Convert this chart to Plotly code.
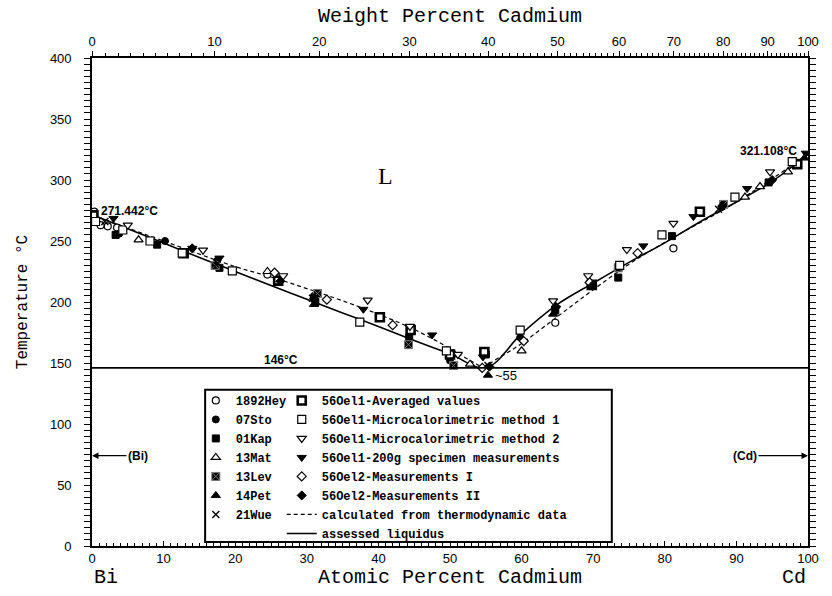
import plotly.graph_objects as go

# ---- Bi-Cd liquidus: experimental points (at.% Cd, temperature in °C) ----
hey_x = [0.3, 1.2, 2.2, 3.5, 24.5, 64.7, 81.2]
hey_t = [274, 263, 262, 261, 222.5, 183, 244]

sto_x = [3.8, 10.2, 17.5, 31.0, 50.0, 59.8, 88.0]
sto_t = [256, 250, 234, 205, 152, 171, 278]

kap_x = [3.3, 9.1, 17.8, 31.2, 44.3, 55.0, 64.7, 73.5, 81.0, 94.5]
kap_t = [255, 247, 228, 200, 171, 157, 193, 220, 254, 298]

mat_x = [6.5, 24.5, 52.8, 60.0, 91.2, 93.3, 97.2]
mat_t = [251, 225, 149, 160, 286, 294.6, 306.7]

lev_x = [0.0, 17.2, 31.5, 44.2, 50.5, 73.5, 88.2]
lev_t = [269, 230, 207, 165, 148, 228, 280]

pet_x = [31.0, 55.3, 64.4, 99.5]
pet_t = [198, 140, 190, 318]

wue_x = [1.8, 17.5, 30.8, 55.3, 87.5]
wue_t = [266, 232, 203, 148, 276]

avg_x = [0.2, 12.8, 26.0, 40.2, 44.5, 50.0, 54.8, 69.8, 84.9, 98.5]
avg_t = [271, 240, 217.5, 187.5, 177, 157, 159, 214, 274, 313]

mc1_x = [0.5, 4.3, 8.1, 12.6, 19.6, 37.4, 49.5, 59.8, 73.7, 79.6, 89.8, 97.8]
mc1_t = [266, 259, 250, 240, 225.5, 183.5, 160, 177, 230, 255, 286, 315]

mc2_x = [5.0, 15.5, 26.7, 38.5, 44.4, 51.1, 64.4, 69.3, 74.7, 81.2, 94.7]
mc2_t = [263, 242.5, 221.5, 201.5, 180, 157, 201, 221.5, 243, 264.5, 306.7]

spec_x = [3.0, 14.0, 17.8, 37.9, 47.5, 54.6, 64.8, 77.0, 84.0, 91.5, 99.7]
spec_t = [268.5, 244, 236, 194, 173, 155, 195, 246, 270, 293, 322]

m1_x = [25.5, 32.8, 42.0, 54.5, 60.3, 69.5, 76.2]
m1_t = [224, 202, 181, 146, 168, 216, 240]

m2_x = [14.0, 26.3, 31.0, 55.5, 64.8, 69.9, 88.0, 95.0]
m2_t = [244, 217, 203, 147, 196, 213.5, 278.5, 300]

# ---- curves ----
liq_x = [0, 5, 10, 15, 20, 25, 30, 35, 40, 45, 50, 55,
         60, 65, 70, 75, 80, 85, 90, 95, 100]
liq_t = [271.442, 260, 248.3, 236.5, 225, 213.5, 202.3, 191, 180, 168.5, 157.5, 146,
         174, 198, 215.5, 232.5, 248.5, 266, 282, 299, 321.108]

calc_x = [0, 10, 20, 25, 30, 35, 40, 45, 50, 53, 54.5, 57, 60, 65, 70, 75, 80, 90, 100]
calc_t = [271.442, 250, 229, 220.5, 211, 201, 190, 177.5, 162, 151.5, 147.5, 155, 166,
          188, 210, 231, 249, 282, 321.108]

eut_x = [0, 100]
eut_t = [146, 146]

# ---- top axis: weight percent Cd ----
wt_major = [0, 10, 20, 30, 40, 50, 60, 70, 80, 90, 100]
wt_minor = list(range(0, 101, 1))
M_BI, M_CD = 208.98, 112.41


def wt_to_at(w):
    n_cd = w / M_CD
    n_bi = (100 - w) / M_BI
    return 100 * n_cd / (n_cd + n_bi)


TICK_FONT = dict(family="Liberation Sans Narrow, Liberation Sans, Arial", size=13, color="black")
TITLE_FONT = dict(family="Liberation Mono, DejaVu Sans Mono, monospace", size=20, color="black")
LEG_FONT = dict(family="Liberation Mono, DejaVu Sans Mono, monospace", size=12, color="black",
                weight="bold")
ANN_FONT = dict(family="Liberation Sans, Arial", size=12, color="black", weight="bold")

fig = go.Figure()

# eutectic horizontal, drawn on the weight-percent axis so it is rendered
fig.add_trace(go.Scatter(x=eut_x, y=eut_t, mode="lines", xaxis="x2",
                         line=dict(color="black", width=1.6), showlegend=False,
                         hoverinfo="skip"))

fig.add_trace(go.Scatter(x=calc_x, y=calc_t, mode="lines", line_shape="spline",
                         line=dict(color="black", width=1.2, dash="4px,3px"),
                         name="calculated from thermodynamic data", legend="legend2",
                         legendrank=70))
fig.add_trace(go.Scatter(x=liq_x, y=liq_t, mode="lines", line_shape="spline",
                         line=dict(color="black", width=1.6),
                         name="assessed liquidus", legend="legend2", legendrank=80))

W = "white"
K = "black"
series = [
    # name, x, t, symbol, fill, line colour, line width, size, legend, rank
    ("1892Hey", hey_x, hey_t, "circle", W, K, 1.2, 7, "legend", 1),
    ("07Sto", sto_x, sto_t, "circle", K, K, 1, 7, "legend", 2),
    ("01Kap", kap_x, kap_t, "square", K, K, 1, 7, "legend", 3),
    ("13Mat", mat_x, mat_t, "triangle-up", W, K, 1.2, 8, "legend", 4),
    ("13Lev", lev_x, lev_t, "square-x", K, "#777777", 1, 8, "legend", 5),
    ("14Pet", pet_x, pet_t, "triangle-up", K, K, 1, 8, "legend", 6),
    ("21Wue", wue_x, wue_t, "x-thin", K, K, 1.4, 7, "legend", 7),
    ("56Oel1-Averaged values", avg_x, avg_t, "square", W, K, 2.6, 8, "legend2", 10),
    ("56Oel1-Microcalorimetric method 1", mc1_x, mc1_t, "square", W, K, 1.2, 8, "legend2", 20),
    ("56Oel1-Microcalorimetric method 2", mc2_x, mc2_t, "triangle-down", W, K, 1.2, 8, "legend2", 30),
    ("56Oel1-200g specimen measurements", spec_x, spec_t, "triangle-down", K, K, 1, 8, "legend2", 40),
    ("56Oel2-Measurements I", m1_x, m1_t, "diamond", W, K, 1.2, 7, "legend2", 50),
    ("56Oel2-Measurements II", m2_x, m2_t, "diamond", K, K, 1, 7, "legend2", 60),
]
for name, xs, ts, sym, fill, lc, lw, sz, leg, rank in series:
    fig.add_trace(go.Scatter(
        x=xs, y=ts, mode="markers", name=name, legend=leg, legendrank=rank,
        marker=dict(symbol=sym, size=sz, color=fill, line=dict(color=lc, width=lw)),
    ))

# legend frame
fig.add_shape(type="rect", xref="paper", yref="paper", x0=0.158, x1=0.726, y0=0.008, y1=0.320,
              line=dict(color="black", width=2), fillcolor="white", layer="above")

annotations = [
    dict(x=1.0, y=275, text="271.442°C", xanchor="left", yanchor="middle", showarrow=False,
         font=ANN_FONT),
    dict(x=98.8, y=323.5, text="321.108°C", xanchor="right", yanchor="middle", showarrow=False,
         font=ANN_FONT),
    dict(x=26.4, y=152.5, text="146°C", xanchor="center", yanchor="middle", showarrow=False,
         font=ANN_FONT),
    dict(x=56.0, y=139.5, text="~55", xanchor="left", yanchor="middle", showarrow=False,
         font=dict(family="Liberation Sans, Arial", size=13, color="black")),
    dict(x=41.0, y=303, text="L", showarrow=False,
         font=dict(family="Liberation Serif, Times New Roman, serif", size=24, color="black")),
    dict(x=0, y=74, ax=46, ay=0, axref="pixel", ayref="pixel", text="(Bi)", showarrow=True,
         arrowhead=2, arrowsize=1, arrowwidth=1.3, arrowcolor="black", font=ANN_FONT),
    dict(x=100, y=74, ax=-63, ay=0, axref="pixel", ayref="pixel", text="(Cd)", showarrow=True,
         arrowhead=2, arrowsize=1, arrowwidth=1.3, arrowcolor="black", font=ANN_FONT),
    dict(x=0, y=-0.065, xref="paper", yref="paper", text="Bi", xanchor="left", yanchor="middle",
         showarrow=False, font=TITLE_FONT),
    dict(x=1.0, y=-0.065, xref="paper", yref="paper", text="Cd", xanchor="right", yanchor="middle",
         showarrow=False, font=TITLE_FONT),
]

fig.update_layout(
    width=832, height=596,
    margin=dict(l=92, r=24, t=58, b=45),
    paper_bgcolor="white", plot_bgcolor="white",
    showlegend=True,
    xaxis=dict(
        range=[0, 100], tickmode="array", tickvals=list(range(0, 101, 10)),
        ticks="inside", ticklen=5, tickwidth=1, tickcolor="black",
        minor=dict(dtick=1, ticks="inside", ticklen=3, tickcolor="black"),
        showline=True, linecolor="black", linewidth=1.6, mirror=False,
        showgrid=False, zeroline=False, tickfont=TICK_FONT,
        title=dict(text="Atomic Percent Cadmium", font=TITLE_FONT, standoff=4),
    ),
    xaxis2=dict(
        range=[0, 100], overlaying="x", side="top", anchor="y",
        tickmode="array", tickvals=[wt_to_at(w) for w in wt_major],
        ticktext=[str(w) for w in wt_major],
        ticks="outside", ticklen=5, tickwidth=1, tickcolor="black",
        minor=dict(tickmode="array", tickvals=[wt_to_at(w) for w in wt_minor],
                   ticks="outside", ticklen=3, tickcolor="black"),
        showline=True, linecolor="black", linewidth=1.6,
        showgrid=False, zeroline=False, tickfont=TICK_FONT,
        title=dict(text="Weight Percent Cadmium", font=TITLE_FONT, standoff=6),
    ),
    yaxis=dict(
        range=[0, 400], tickmode="array", tickvals=list(range(0, 401, 50)),
        ticks="outside", ticklen=6, tickwidth=1, tickcolor="black",
        minor=dict(dtick=5, ticks="outside", ticklen=3, tickcolor="black"),
        showline=True, linecolor="black", linewidth=1.6, mirror="allticks",
        showgrid=False, zeroline=False, tickfont=TICK_FONT, ticklabelstandoff=10,
        title=dict(text="Temperature °C", font=dict(TITLE_FONT, size=16), standoff=18),
    ),
    legend=dict(x=0.145, y=0.328, xanchor="left", yanchor="top", bgcolor="rgba(0,0,0,0)",
                font=LEG_FONT, itemwidth=30, tracegroupgap=0, traceorder="normal"),
    legend2=dict(x=0.265, y=0.328, xanchor="left", yanchor="top", bgcolor="rgba(0,0,0,0)",
                 font=LEG_FONT, itemwidth=30, tracegroupgap=0, traceorder="normal"),
    annotations=annotations,
)

fig.write_html("out.html")
